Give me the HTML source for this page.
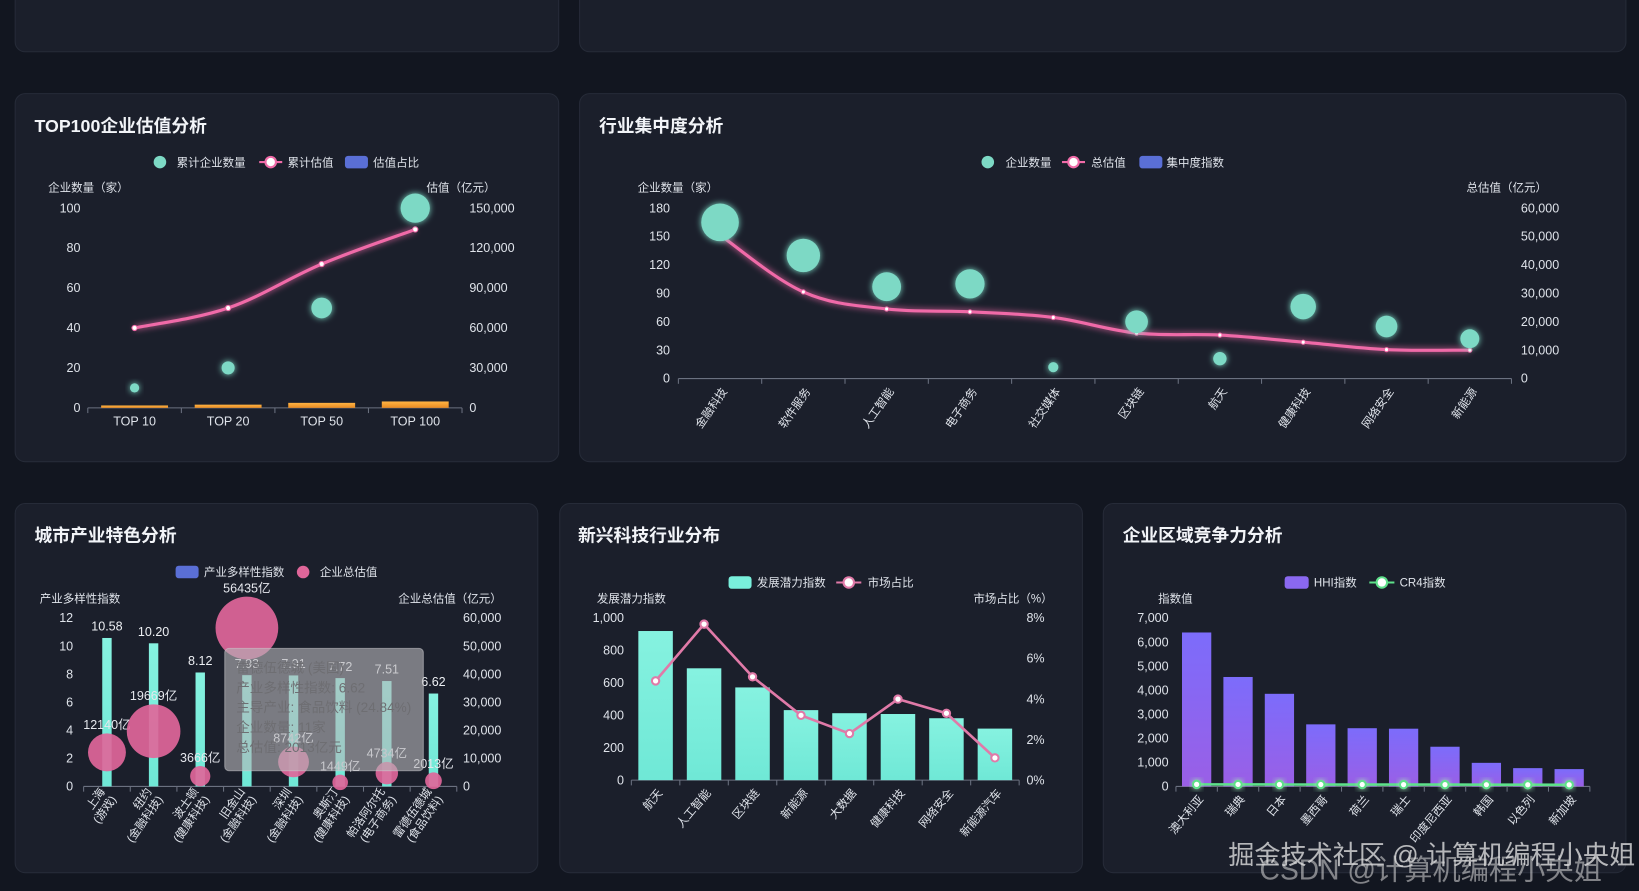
<!DOCTYPE html>
<html><head><meta charset="utf-8">
<style>
html,body{margin:0;padding:0;background:#121620;overflow:hidden;width:1639px;height:891px;}
#wrap{position:absolute;left:0;top:0;width:1568px;height:852px;transform-origin:0 0;transform:scale(1.04528,1.04577);font-family:"Liberation Sans","Noto Sans CJK SC",sans-serif;}
.panel{position:absolute;background:#1b1f2b;border:1px solid #262b38;border-radius:10px;box-sizing:border-box;}
svg{position:absolute;left:0;top:0;}
.wm{position:absolute;font-size:25px;color:rgba(235,235,235,0.75);white-space:nowrap;}
</style></head>
<body>
<div id="wrap">
<div class="panel" style="left:14px;top:-20px;width:521px;height:70px"></div>
<div class="panel" style="left:554px;top:-20px;width:1002px;height:70px"></div>
<div class="panel" style="left:14px;top:89px;width:521px;height:353px"></div>
<div class="panel" style="left:554px;top:89px;width:1002px;height:353px"></div>
<div class="panel" style="left:14px;top:481px;width:501px;height:354px"></div>
<div class="panel" style="left:535px;top:481px;width:501px;height:354px"></div>
<div class="panel" style="left:1055px;top:481px;width:501px;height:354px"></div>
<svg id="svg" width="1568" height="852" viewBox="0 0 1568 852">
<defs>
<linearGradient id="gTeal" x1="0" y1="0" x2="0" y2="1"><stop offset="0" stop-color="#86f2e0"/><stop offset="1" stop-color="#6fe8d6"/></linearGradient>
<linearGradient id="gPurple" x1="0" y1="0" x2="0" y2="1"><stop offset="0" stop-color="#7c6cfb"/><stop offset="1" stop-color="#9a5fe6"/></linearGradient>
<linearGradient id="gOrange" x1="0" y1="0" x2="0" y2="1"><stop offset="0" stop-color="#ffb444"/><stop offset="1" stop-color="#e88a22"/></linearGradient>
<filter id="glow" x="-50%" y="-50%" width="200%" height="200%"><feGaussianBlur stdDeviation="3" result="b"/><feMerge><feMergeNode in="b"/><feMergeNode in="SourceGraphic"/></feMerge></filter>
</defs>
</svg>
<div class="wm" style="left:1175px;top:798px">掘金技术社区 @ 计算机编程小央姐</div>
<div class="wm" style="left:1205px;top:810px;color:rgba(220,220,220,0.55);font-size:27px">CSDN @计算机编程小央姐</div>
</div>
<script>
// ---- Chart 1: TOP100 ----
const c1Cats = ['TOP 10','TOP 20','TOP 50','TOP 100'];
const c1Count = [10, 20, 50, 100];
const c1Value = [60000, 75000, 108000, 134000];
const c1Share = [1.2, 1.6, 2.5, 3.2];
const c1LeftTicks = [0,20,40,60,80,100];
const c1RightTicks = [0,30000,60000,90000,120000,150000];
// ---- Chart 2: industry concentration ----
const c2Cats = ['金融科技','软件服务','人工智能','电子商务','社交媒体','区块链','航天','健康科技','网络安全','新能源'];
const c2Count = [165, 130, 97, 100, 12, 60, 21, 76, 55, 42];
const c2Value = [50500, 30500, 24500, 23500, 21500, 16000, 15300, 12800, 10200, 10000];
const c2LeftTicks = [0,30,60,90,120,150,180];
const c2RightTicks = [0,10000,20000,30000,40000,50000,60000];
// ---- Chart 3: city industry ----
const c3Cats = [['上海','(游戏)'],['纽约','(金融科技)'],['波士顿','(健康科技)'],['旧金山','(金融科技)'],['深圳','(金融科技)'],['奥斯汀','(健康科技)'],['帕洛阿尔托','(电子商务)'],['雷德伍德城','(食品饮料)']];
const c3Div = [10.58, 10.20, 8.12, 7.93, 7.91, 7.72, 7.51, 6.62];
const c3Val = [12140, 19669, 3666, 56435, 8742, 1449, 4734, 2013];
const c3LeftTicks = [0,2,4,6,8,10,12];
const c3RightTicks = [0,10000,20000,30000,40000,50000,60000];
// ---- Chart 4: emerging tech ----
const c4Cats = ['航天','人工智能','区块链','新能源','大数据','健康科技','网络安全','新能源汽车'];
const c4Pot = [920, 690, 572, 432, 413, 408, 382, 318];
const c4Share = [4.9, 7.7, 5.1, 3.2, 2.3, 4.0, 3.3, 1.1];
const c4LeftTicks = [0,200,400,600,800,1000];
const c4RightTicks = [0,2,4,6,8];
// ---- Chart 5: regional competition ----
const c5Cats = ['澳大利亚','瑞典','日本','墨西哥','荷兰','瑞士','印度尼西亚','韩国','以色列','新加坡'];
const c5HHI = [6400, 4550, 3850, 2580, 2420, 2400, 1650, 980, 760, 720];
const c5CR4 = [85, 82, 80, 78, 78, 76, 75, 72, 70, 68];
const c5Ticks = [0,1000,2000,3000,4000,5000,6000,7000];

const svg = document.getElementById('svg');
const NS = svg.namespaceURI;
function el(tag, attrs, parent, name, inter){
  const e = document.createElementNS(NS, tag);
  for (const k in attrs) e.setAttribute(k, attrs[k]);
  
  
  (parent || svg).appendChild(e);
  return e;
}
function txt(x, y, s, size, color, anchor, name, extra){
  const a = Object.assign({x:x, y:y, 'font-size':size, fill:color, 'text-anchor':anchor||'start'}, extra||{});
  const t = el('text', a, svg, name, false);
  t.textContent = s;
  return t;
}
function fmt(v){ return v.toLocaleString('en-US'); }
function lin(d0,d1,r0,r1){ return v => r0 + (v-d0)/(d1-d0)*(r1-r0); }
function bandX(n, x0, x1){ const w=(x1-x0)/n; return i => x0 + w*(i+0.5); }
function xAxis(x0,x1,y,n,name){
  el('line',{x1:x0,y1:y,x2:x1,y2:y,stroke:'#6b7180','stroke-width':1},svg,name,false);
  const w=(x1-x0)/n;
  for(let i=0;i<=n;i++){
    el('line',{x1:x0+w*i,y1:y,x2:x0+w*i,y2:y+5,stroke:'#6b7180','stroke-width':1},svg,'x-axis-tick',false);
  }
}
function rotLabel(cx, y, lines, size, name, ang){
  const g = el('g',{transform:'translate('+cx+','+y+') rotate('+(ang||-55)+')'},svg,name,false);
  lines.forEach((s,k)=>{
    const t = el('text',{x:0,y:(k-(lines.length-1))*13+4,'font-size':size,fill:'#dfe3ea','text-anchor':'end'},g,'x-tick-label-line',false);
    t.textContent = s;
  });
}
function smoothPath(pts){
  let d='M'+pts[0][0]+','+pts[0][1];
  for(let i=0;i<pts.length-1;i++){
    const p0=pts[i-1]||pts[i], p1=pts[i], p2=pts[i+1], p3=pts[i+2]||p2, t=0.35;
    const c1x=p1[0]+(p2[0]-p0[0])*t/2*1.0, c1y=p1[1]+(p2[1]-p0[1])*t/2;
    const c2x=p2[0]-(p3[0]-p1[0])*t/2, c2y=p2[1]-(p3[1]-p1[1])*t/2;
    d+=' C'+c1x+','+c1y+' '+c2x+','+c2y+' '+p2[0]+','+p2[1];
  }
  return d;
}
const TC='#dfe3ea';

// Titles
txt(33,126,'TOP100企业估值分析',17,'#f2f4f8','start','chart-title-top100',{'font-weight':'bold'});
txt(573,126,'行业集中度分析',17,'#f2f4f8','start','chart-title-concentration',{'font-weight':'bold'});
txt(33,518,'城市产业特色分析',17,'#f2f4f8','start','chart-title-city',{'font-weight':'bold'});
txt(553,518,'新兴科技行业分布',17,'#f2f4f8','start','chart-title-emerging',{'font-weight':'bold'});
txt(1074,518,'企业区域竞争力分析',17,'#f2f4f8','start','chart-title-regional',{'font-weight':'bold'});

// ================= Chart 1 =================
(function(){
  const yL = lin(0,100,390,199), yR = lin(0,150000,390,199), xc = bandX(4,84,442);
  // legend
  el('circle',{cx:153,cy:155,r:6,fill:'#7dd9c5'},svg,'legend-count-marker',true);
  txt(169,159,'累计企业数量',11,TC,'start','legend-count-label');
  el('line',{x1:248,y1:155,x2:270,y2:155,stroke:'#f06ba8','stroke-width':2},svg,'legend-value-line',true);
  el('circle',{cx:259,cy:155,r:5,fill:'#fff',stroke:'#f06ba8','stroke-width':2},svg,'legend-value-marker',true);
  txt(275,159,'累计估值',11,TC,'start','legend-value-label');
  el('rect',{x:330,y:149,width:22,height:12,rx:3,fill:'#5a6fd6'},svg,'legend-share-marker',true);
  txt(357,159,'估值占比',11,TC,'start','legend-share-label');
  txt(46,183,'企业数量（家）',11,TC,'start','y-axis-left-title');
  txt(408,183,'估值（亿元）',11,TC,'start','y-axis-right-title');
  c1LeftTicks.forEach(v=>{ txt(77,yL(v)+4,String(v),12,TC,'end','y-left-tick-label'); });
  c1RightTicks.forEach(v=>{ txt(449,yR(v)+4,fmt(v),12,TC,'start','y-right-tick-label'); });
  xAxis(84,442,390,4,'x-axis-line');
  c1Cats.forEach((c,i)=>{ txt(xc(i),407,c,12,TC,'middle','x-tick-label'); });
  c1Share.forEach((v,i)=>{
    const b = el('rect',{x:xc(i)-32,y:yL(v),width:64,height:390-yL(v),fill:'url(#gOrange)'},svg,'share-bar',true);
  });
  const pts = c1Value.map((v,i)=>[xc(i),yR(v)]);
  el('path',{d:smoothPath(pts),fill:'none',stroke:'#f06ba8','stroke-width':3,filter:'url(#glow)'},svg,'cumulative-value-line',false);
  pts.forEach(p=>{ el('circle',{cx:p[0],cy:p[1],r:2.5,fill:'#fff',stroke:'#f06ba8','stroke-width':1},svg,'value-point',true); });
  c1Count.forEach((v,i)=>{
    el('circle',{cx:xc(i),cy:yL(v),r:Math.sqrt(v)*1.4,fill:'#7dd9c5',filter:'url(#glow)'},svg,'count-bubble',true);
  });
})();

// ================= Chart 2 =================
(function(){
  const yL = lin(0,180,362,199), yR = lin(0,60000,362,199), xc = bandX(10,649,1446);
  el('circle',{cx:945,cy:155,r:6,fill:'#7dd9c5'},svg,'legend-count-marker',true);
  txt(962,159,'企业数量',11,TC,'start','legend-count-label');
  el('line',{x1:1016,y1:155,x2:1038,y2:155,stroke:'#f06ba8','stroke-width':2},svg,'legend-value-line',true);
  el('circle',{cx:1027,cy:155,r:5,fill:'#fff',stroke:'#f06ba8','stroke-width':2},svg,'legend-value-marker',true);
  txt(1044,159,'总估值',11,TC,'start','legend-value-label');
  el('rect',{x:1090,y:149,width:22,height:12,rx:3,fill:'#5a6fd6'},svg,'legend-index-marker',true);
  txt(1116,159,'集中度指数',11,TC,'start','legend-index-label');
  txt(610,183,'企业数量（家）',11,TC,'start','y-axis-left-title');
  txt(1480,183,'总估值（亿元）',11,TC,'end','y-axis-right-title');
  c2LeftTicks.forEach(v=>{ txt(641,yL(v)+4,String(v),12,TC,'end','y-left-tick-label'); });
  c2RightTicks.forEach(v=>{ txt(1455,yR(v)+4,fmt(v),12,TC,'start','y-right-tick-label'); });
  xAxis(649,1446,362,10,'x-axis-line');
  c2Cats.forEach((c,i)=>{ rotLabel(xc(i)+4,372,[c],11,'x-tick-label',-55); });
  const pts = c2Value.map((v,i)=>[xc(i),yR(v)]);
  el('path',{d:smoothPath(pts),fill:'none',stroke:'#f06ba8','stroke-width':3,filter:'url(#glow)'},svg,'total-value-line',false);
  pts.forEach(p=>{ el('circle',{cx:p[0],cy:p[1],r:2,fill:'#fff',stroke:'#f06ba8','stroke-width':1},svg,'value-point',true); });
  c2Count.forEach((v,i)=>{
    el('circle',{cx:xc(i),cy:yL(v),r:Math.sqrt(v)*1.4,fill:'#7dd9c5',filter:'url(#glow)'},svg,'count-bubble',true);
  });
})();

// ================= Chart 3 =================
(function(){
  const yL = lin(0,12,752,591), yR = lin(0,60000,752,591), xc = bandX(8,80,437);
  el('rect',{x:168,y:541,width:22,height:12,rx:3,fill:'#5a6fd6'},svg,'legend-diversity-marker',true);
  txt(195,551,'产业多样性指数',11,TC,'start','legend-diversity-label');
  el('circle',{cx:290,cy:547,r:6,fill:'#e0669a'},svg,'legend-valuation-marker',true);
  txt(306,551,'企业总估值',11,TC,'start','legend-valuation-label');
  txt(38,576,'产业多样性指数',11,TC,'start','y-axis-left-title');
  txt(480,576,'企业总估值（亿元）',11,TC,'end','y-axis-right-title');
  c3LeftTicks.forEach(v=>{ txt(70,yL(v)+4,String(v),12,TC,'end','y-left-tick-label'); });
  c3RightTicks.forEach(v=>{ txt(443,yR(v)+4,fmt(v),12,TC,'start','y-right-tick-label'); });
  xAxis(80,437,752,8,'x-axis-line');
  c3Cats.forEach((c,i)=>{ rotLabel(xc(i)+6,762,c,11,'x-tick-label',-55); });
  c3Div.forEach((v,i)=>{
    el('rect',{x:xc(i)-4.5,y:yL(v),width:9,height:752-yL(v),fill:'url(#gTeal)'},svg,'diversity-bar',true);
    txt(xc(i),yL(v)-7,v.toFixed(2),12,'#eef0f4','middle','diversity-value-label');
  });
  c3Val.forEach((v,i)=>{
    const r = Math.min(30, 6 + v/1000);
    el('circle',{cx:xc(i),cy:yR(v),r:r,fill:'#e0669a','fill-opacity':0.92},svg,'valuation-bubble',true);
    txt(xc(i),yR(v)-r-4,v+'亿',12,'#e6e8ee','middle','valuation-label');
  });
  // tooltip
  el('rect',{x:215,y:620,width:190,height:117,rx:4,fill:'#b4b4b8','fill-opacity':0.62,stroke:'#cfcfd3','stroke-opacity':0.5},svg,'tooltip-box',false);
  const tt = ['雷德伍德城 (美国)','产业多样性指数: 6.62','主导产业: 食品饮料 (24.84%)','企业数量: 11家','总估值: 2013亿元'];
  tt.forEach((s,k)=>{ txt(226,643+k*19,s,13,'#6e6e72','start','tooltip-line'); });
})();

// ================= Chart 4 =================
(function(){
  const yL = lin(0,1000,746,591), yR = lin(0,8,746,591), xc = bandX(8,604,975);
  el('rect',{x:697,y:551,width:22,height:12,rx:3,fill:'#79f0dc'},svg,'legend-potential-marker',true);
  txt(724,561,'发展潜力指数',11,TC,'start','legend-potential-label');
  el('line',{x1:800,y1:557,x2:824,y2:557,stroke:'#e07aa8','stroke-width':2},svg,'legend-share-line',true);
  el('circle',{cx:812,cy:557,r:5,fill:'#fff',stroke:'#e07aa8','stroke-width':2},svg,'legend-share-marker',true);
  txt(830,561,'市场占比',11,TC,'start','legend-share-label');
  txt(571,576,'发展潜力指数',11,TC,'start','y-axis-left-title');
  txt(1007,576,'市场占比（%）',11,TC,'end','y-axis-right-title');
  c4LeftTicks.forEach(v=>{ txt(597,yL(v)+4,fmt(v),12,TC,'end','y-left-tick-label'); });
  c4RightTicks.forEach(v=>{ txt(982,yR(v)+4,v+'%',12,TC,'start','y-right-tick-label'); });
  xAxis(604,975,746,8,'x-axis-line');
  c4Cats.forEach((c,i)=>{ rotLabel(xc(i)+4,756,[c],11,'x-tick-label',-50); });
  c4Pot.forEach((v,i)=>{
    el('rect',{x:xc(i)-16.5,y:yL(v),width:33,height:746-yL(v),fill:'url(#gTeal)'},svg,'potential-bar',true);
  });
  const pts = c4Share.map((v,i)=>[xc(i),yR(v)]);
  el('polyline',{points:pts.map(p=>p.join(',')).join(' '),fill:'none',stroke:'#e07aa8','stroke-width':2.5},svg,'market-share-line',false);
  pts.forEach(p=>{ el('circle',{cx:p[0],cy:p[1],r:3.5,fill:'#fff',stroke:'#e07aa8','stroke-width':2},svg,'share-point',true); });
})();

// ================= Chart 5 =================
(function(){
  const yL = lin(0,7000,752,591), xc = bandX(10,1125,1521);
  el('rect',{x:1229,y:551,width:23,height:12,rx:3,fill:'#8a68f0'},svg,'legend-hhi-marker',true);
  txt(1257,561,'HHI指数',11,TC,'start','legend-hhi-label');
  el('line',{x1:1310,y1:557,x2:1334,y2:557,stroke:'#5ee08a','stroke-width':2},svg,'legend-cr4-line',true);
  el('circle',{cx:1322,cy:557,r:5,fill:'#fff',stroke:'#5ee08a','stroke-width':2},svg,'legend-cr4-marker',true);
  txt(1339,561,'CR4指数',11,TC,'start','legend-cr4-label');
  txt(1108,576,'指数值',11,TC,'start','y-axis-title');
  c5Ticks.forEach(v=>{ txt(1118,yL(v)+4,fmt(v),12,TC,'end','y-tick-label'); });
  xAxis(1125,1521,752,10,'x-axis-line');
  c5Cats.forEach((c,i)=>{ rotLabel(xc(i)+4,762,[c],11,'x-tick-label',-50); });
  c5HHI.forEach((v,i)=>{
    el('rect',{x:xc(i)-14,y:yL(v),width:28,height:752-yL(v),fill:'url(#gPurple)'},svg,'hhi-bar',true);
  });
  const pts = c5CR4.map((v,i)=>[xc(i),yL(v)]);
  el('polyline',{points:pts.map(p=>p.join(',')).join(' '),fill:'none',stroke:'#5ee08a','stroke-width':2.5},svg,'cr4-line',false);
  pts.forEach(p=>{ el('circle',{cx:p[0],cy:p[1],r:3.5,fill:'#fff',stroke:'#5ee08a','stroke-width':2,filter:'url(#glow)'},svg,'cr4-point',true); });
})();
</script>
</body></html>
